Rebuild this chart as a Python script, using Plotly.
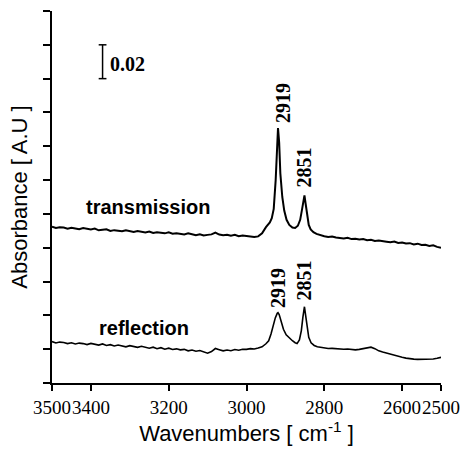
import plotly.graph_objects as go

# FTIR spectra: wavenumber (cm-1) and absorbance (A.U.)
trans_wn = [3500, 3490, 3480, 3470, 3460, 3450, 3440, 3430, 3420, 3410,
            3400, 3390, 3380, 3370, 3360, 3350, 3340, 3330, 3320, 3310,
            3300, 3290, 3280, 3270, 3260, 3250, 3240, 3230, 3220, 3210,
            3200, 3190, 3180, 3170, 3160, 3150, 3140, 3130, 3120, 3110,
            3100, 3090, 3080, 3070, 3060, 3050, 3040, 3030, 3020, 3010,
            3000, 2990, 2980, 2970, 2960, 2950, 2945, 2940, 2935, 2930,
            2925, 2921, 2919, 2916, 2913, 2908, 2903, 2897, 2890, 2882,
            2875, 2868, 2862, 2857, 2853, 2851, 2848, 2844, 2840, 2835,
            2828, 2820, 2810, 2800, 2790, 2780, 2770, 2760, 2750, 2740,
            2730, 2720, 2710, 2700, 2690, 2680, 2670, 2660, 2650, 2640,
            2630, 2620, 2610, 2600, 2590, 2580, 2570, 2560, 2550, 2540,
            2530, 2520, 2510, 2500]
trans_abs = [0.0925, 0.0917, 0.0921, 0.0919, 0.0912, 0.0918, 0.0914, 0.0909, 0.0916, 0.0910,
             0.0908, 0.0913, 0.0903, 0.0906, 0.0909, 0.0899, 0.0904, 0.0901, 0.0897, 0.0903,
             0.0898, 0.0893, 0.0899, 0.0894, 0.0890, 0.0896, 0.0887, 0.0892, 0.0889, 0.0885,
             0.0891, 0.0883, 0.0886, 0.0882, 0.0879, 0.0885, 0.0878, 0.0874, 0.0880, 0.0872,
             0.0876, 0.0879, 0.0890, 0.0878, 0.0874, 0.0877, 0.0871, 0.0876, 0.0868, 0.0872,
             0.0870, 0.0866, 0.0864, 0.0867, 0.0885, 0.0922, 0.0938, 0.0950, 0.0975, 0.1030,
             0.1200, 0.1400, 0.1508, 0.1420, 0.1240, 0.1100, 0.1020, 0.0965, 0.0935, 0.0920,
             0.0917, 0.0930, 0.0965, 0.1030, 0.1090, 0.1110, 0.1060, 0.0980, 0.0935, 0.0908,
             0.0892, 0.0882, 0.0874, 0.0868, 0.0863, 0.0866, 0.0860, 0.0858, 0.0855, 0.0859,
             0.0851, 0.0853, 0.0849, 0.0851, 0.0844, 0.0847, 0.0840, 0.0843, 0.0838, 0.0836,
             0.0833, 0.0837, 0.0828, 0.0831, 0.0825, 0.0827, 0.0819, 0.0824, 0.0816, 0.0818,
             0.0811, 0.0814, 0.0805, 0.0800]

refl_wn = [3500, 3490, 3480, 3470, 3460, 3450, 3440, 3430, 3420, 3410,
           3400, 3390, 3380, 3370, 3360, 3350, 3340, 3330, 3320, 3310,
           3300, 3290, 3280, 3270, 3260, 3250, 3240, 3230, 3220, 3210,
           3200, 3190, 3180, 3170, 3160, 3150, 3140, 3130, 3120, 3110,
           3100, 3090, 3080, 3070, 3060, 3050, 3040, 3030, 3020, 3010,
           3000, 2990, 2980, 2970, 2960, 2950, 2943, 2937, 2932, 2926,
           2921, 2919, 2916, 2911, 2905, 2898, 2890, 2882, 2875, 2870,
           2864, 2859, 2855, 2851, 2848, 2844, 2840, 2834, 2826, 2818,
           2810, 2800, 2790, 2780, 2770, 2760, 2750, 2740, 2730, 2720,
           2710, 2700, 2690, 2680, 2670, 2660, 2650, 2640, 2630, 2620,
           2610, 2600, 2590, 2580, 2570, 2560, 2550, 2540, 2530, 2520,
           2510, 2500]
refl_abs = [0.0245, 0.0237, 0.0242, 0.0240, 0.0233, 0.0238, 0.0231, 0.0236, 0.0233, 0.0227,
            0.0234, 0.0228, 0.0224, 0.0231, 0.0222, 0.0227, 0.0219, 0.0225, 0.0220, 0.0214,
            0.0221, 0.0216, 0.0211, 0.0217, 0.0213, 0.0206, 0.0212, 0.0203, 0.0209, 0.0200,
            0.0206, 0.0198, 0.0202, 0.0196, 0.0199, 0.0190, 0.0195, 0.0188, 0.0192, 0.0183,
            0.0176, 0.0186, 0.0204, 0.0197, 0.0190, 0.0195, 0.0191, 0.0198, 0.0194, 0.0200,
            0.0199, 0.0203, 0.0201, 0.0207, 0.0214, 0.0232, 0.0250, 0.0290, 0.0335, 0.0385,
            0.0412, 0.0416, 0.0405, 0.0365, 0.0318, 0.0285, 0.0265, 0.0250, 0.0238, 0.0233,
            0.0255, 0.0310, 0.0390, 0.0451, 0.0400, 0.0330, 0.0270, 0.0238, 0.0222, 0.0214,
            0.0210, 0.0206, 0.0204, 0.0205, 0.0202, 0.0203, 0.0200, 0.0201, 0.0198, 0.0196,
            0.0199, 0.0203, 0.0209, 0.0212, 0.0203, 0.0190, 0.0183, 0.0176, 0.0170, 0.0163,
            0.0157, 0.0152, 0.0147, 0.0143, 0.0141, 0.0140, 0.0140, 0.0139, 0.0141, 0.0142,
            0.0146, 0.0152]

x_ticks = [3500, 3400, 3200, 3000, 2800, 2600, 2500]
peak_wn = [2919, 2851]
trans_peak_label_y = [0.1656, 0.1277]
refl_peak_label_y = [0.0562, 0.0609]
scale_bar = 0.02

fig = go.Figure()
fig.add_trace(go.Scatter(x=trans_wn, y=trans_abs, mode="lines",
                         line=dict(color="black", width=2), showlegend=False))
fig.add_trace(go.Scatter(x=refl_wn, y=refl_abs, mode="lines",
                         line=dict(color="black", width=1.6), showlegend=False))

serif_bold = dict(family="Liberation Serif", size=20, color="black")
sans_bold = dict(family="Liberation Sans", size=20, color="black")

ann = []
ann.append(dict(x=3253, y=0.1041, text="<b>transmission</b>", showarrow=False, font=sans_bold))
ann.append(dict(x=3263, y=0.0325, text="<b>reflection</b>", showarrow=False, font=sans_bold))
for wn, yv, dx in zip(peak_wn, trans_peak_label_y, [5, 0]):
    ann.append(dict(x=wn, y=yv, xshift=dx, text=f"<b>{wn}</b>", textangle=-90,
                    showarrow=False, font=serif_bold))
for wn, yv in zip(peak_wn, refl_peak_label_y):
    ann.append(dict(x=wn, y=yv, text=f"<b>{wn}</b>", textangle=-90,
                    showarrow=False, font=serif_bold))

# 0.02 absorbance scale bar
bar_x, bar_lo = 3370, 0.18
ann.append(dict(x=3356, y=0.1886, xanchor="left", text="<b>0.02</b>", showarrow=False,
                font=serif_bold))
shapes = [
    dict(type="line", x0=bar_x, x1=bar_x, y0=bar_lo, y1=bar_lo + scale_bar,
         line=dict(color="black", width=1.5)),
    dict(type="line", x0=bar_x + 10, x1=bar_x - 10, y0=bar_lo, y1=bar_lo,
         line=dict(color="black", width=1.5)),
    dict(type="line", x0=bar_x + 10, x1=bar_x - 10, y0=bar_lo + scale_bar, y1=bar_lo + scale_bar,
         line=dict(color="black", width=1.5)),
]

fig.update_layout(
    width=466, height=454,
    margin=dict(l=52, r=25, t=11, b=71),
    paper_bgcolor="white", plot_bgcolor="white",
    annotations=ann, shapes=shapes,
    xaxis=dict(range=[3500, 2500], tickvals=x_ticks, ticktext=[str(v) for v in x_ticks],
               tickangle=0, automargin=False,
               showline=True, linecolor="black", linewidth=1.6, ticks="outside",
               ticklen=6, tickwidth=1.5, tickcolor="black", showgrid=False, zeroline=False,
               tickfont=dict(family="Liberation Serif", size=19, color="black"),
               title=dict(text="Wavenumbers [ cm<sup>-1</sup> ]", standoff=8,
                          font=dict(family="Liberation Sans", size=22, color="black"))),
    yaxis=dict(range=[0, 0.22], dtick=0.02, tick0=0, showticklabels=False, automargin=False,
               showline=True, linecolor="black", linewidth=1.6, ticks="outside",
               ticklen=7, tickwidth=1.5, tickcolor="black", showgrid=False, zeroline=False,
               title=dict(text="Absorbance [ A.U ]", standoff=10,
                          font=dict(family="Liberation Sans", size=22, color="black"))),
)

fig.write_html("out.html")
